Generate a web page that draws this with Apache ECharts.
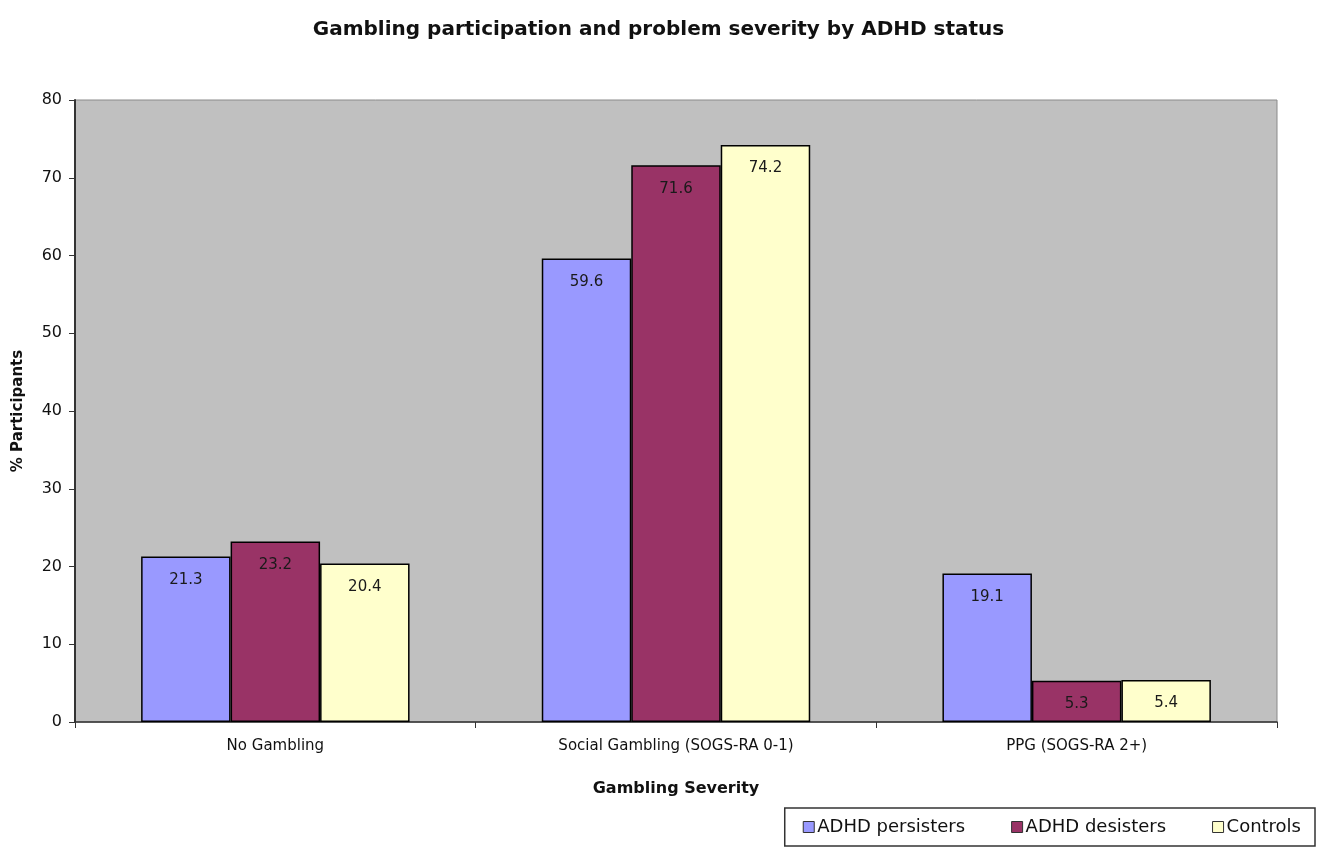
<!DOCTYPE html>
<html>
<head>
<meta charset="utf-8">
<script src="https://cdn.jsdelivr.net/npm/echarts@6/dist/echarts.min.js"></script>
<style>
  html, body { margin: 0; padding: 0; background: #fff; }
  #chart { width: 1317px; height: 850px; }
</style>
</head>
<body>
<div id="chart"></div>
<script>
  var categories = ['No Gambling', 'Social Gambling (SOGS-RA 0-1)', 'PPG (SOGS-RA 2+)']
  var seriesNames = ['ADHD persisters', 'ADHD desisters', 'Controls']
  var persisters = [21.3, 59.6, 19.1]
  var desisters = [23.2, 71.6, 5.3]
  var controls = [20.4, 74.2, 5.4]
  var yTicks = { min: 0, max: 80, interval: 10 }

  var colors = ['#9999ff', '#993366', '#ffffcc']
  var font = 'DejaVu Sans, Verdana, sans-serif'

  function barSeries(name, data, color) {
    return {
      name: name,
      type: 'bar',
      data: data,
      barGap: '0%',
      barCategoryGap: '33%',
      itemStyle: { color: color, borderColor: '#000', borderWidth: 1.5 },
      label: {
        show: true,
        position: 'insideTop',
        distance: 16,
        fontFamily: font,
        fontSize: 15,
        color: '#1a1a1a',
      },
    }
  }

  var chart = echarts.init(document.getElementById('chart'))
  chart.setOption({
    animation: false,
    title: {
      text: 'Gambling participation and problem severity by ADHD status',
      left: 'center',
      top: 15,
      textStyle: { fontFamily: font, fontSize: 20, fontWeight: 'bold', color: '#111' },
    },
    grid: {
      left: 75,
      right: 40,
      top: 100,
      bottom: 128,
      outerBoundsMode: 'none',
      show: true,
      backgroundColor: '#c0c0c0',
      borderColor: '#8a8a8a',
      borderWidth: 1,
    },
    legend: {
      data: seriesNames,
      right: 2,
      top: 808,
      itemWidth: 11,
      itemHeight: 11,
      itemGap: 46,
      icon: 'rect',
      padding: [10, 14, 10, 18],
      borderColor: '#333',
      borderWidth: 1.5,
      itemStyle: { borderColor: '#333', borderWidth: 1 },
      textStyle: { fontFamily: font, fontSize: 18, color: '#111', padding: [0, 0, 0, -2] },
    },
    xAxis: {
      type: 'category',
      data: categories,
      name: 'Gambling Severity',
      nameLocation: 'middle',
      nameGap: 59,
      nameTextStyle: { fontFamily: font, fontSize: 16, fontWeight: 'bold', color: '#111' },
      axisLine: { lineStyle: { color: '#333', width: 1.5 } },
      axisTick: { show: true, length: 6, lineStyle: { color: '#333' } },
      axisLabel: { fontFamily: font, fontSize: 15, color: '#111', margin: 17 },
    },
    yAxis: {
      type: 'value',
      min: yTicks.min,
      max: yTicks.max,
      interval: yTicks.interval,
      name: '% Participants',
      nameLocation: 'middle',
      nameGap: 49,
      nameTextStyle: { fontFamily: font, fontSize: 15, fontWeight: 'bold', color: '#111' },
      axisLine: { show: true, lineStyle: { color: '#333', width: 2 } },
      axisTick: { show: true, length: 6, lineStyle: { color: '#333' } },
      axisLabel: { fontFamily: font, fontSize: 16, color: '#111', margin: 13 },
      splitLine: { show: false },
    },
    series: [
      barSeries(seriesNames[0], persisters, colors[0]),
      barSeries(seriesNames[1], desisters, colors[1]),
      barSeries(seriesNames[2], controls, colors[2]),
    ],
  })
</script>
</body>
</html>
